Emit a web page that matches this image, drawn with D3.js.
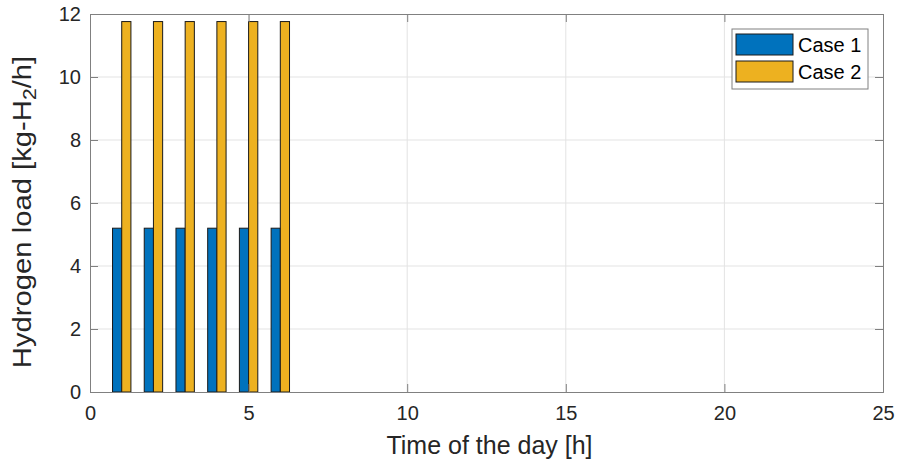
<!DOCTYPE html>
<html>
<head>
<meta charset="utf-8">
<script src="https://cdn.jsdelivr.net/npm/d3@7"></script>
<style>
  html, body { margin: 0; padding: 0; background: #fff; }
  svg { display: block; font-family: "Liberation Sans", Arial, sans-serif; }
</style>
</head>
<body>
<svg id="chart" width="898" height="463"></svg>
<script>
// Hourly hydrogen load for the two cases
const hours = [1, 2, 3, 4, 5, 6];
const case1 = [5.2, 5.2, 5.2, 5.2, 5.2, 5.2];
const case2 = [11.76, 11.76, 11.76, 11.76, 11.76, 11.76];
const seriesNames = ["Case 1", "Case 2"];
const seriesColors = ["#0072BD", "#EDB120"];
const xTicks = [0, 5, 10, 15, 20, 25];
const yTicks = [0, 2, 4, 6, 8, 10, 12];

const svg = d3.select("#chart");
const margin = { left: 90, right: 15, top: 14, bottom: 71 };
const W = 898, H = 463;
const x = d3.scaleLinear().domain([0, 25]).range([margin.left, W - margin.right]);
const y = d3.scaleLinear().domain([0, 12]).range([H - margin.bottom, margin.top]);

const axisColor = "#808080";
const gridColor = "#e3e3e3";
const textColor = "#262626";

// grid
svg.append("g").selectAll("line").data(xTicks.slice(1, -1)).join("line")
  .attr("x1", d => x(d)).attr("x2", d => x(d))
  .attr("y1", y(0)).attr("y2", y(12))
  .attr("stroke", gridColor).attr("stroke-width", 1);
svg.append("g").selectAll("line").data(yTicks.slice(1, -1)).join("line")
  .attr("x1", x(0)).attr("x2", x(25))
  .attr("y1", d => y(d)).attr("y2", d => y(d))
  .attr("stroke", gridColor).attr("stroke-width", 1);

// grouped bars
const series = [case1, case2];
const barW = 0.29; // in hours
const bars = svg.append("g");
series.forEach((vals, si) => {
  bars.selectAll(null).data(hours.map((h, i) => ({ h, v: vals[i] }))).join("rect")
    .attr("x", d => x(d.h + (si - 1) * barW))
    .attr("width", x(barW) - x(0))
    .attr("y", d => y(d.v))
    .attr("height", d => y(0) - y(d.v))
    .attr("fill", seriesColors[si])
    .attr("stroke", "#1a1a1a")
    .attr("stroke-width", 1);
});

// axes (ticks inward, full box)
const tickLen = 8;
const xAxis = d3.axisBottom(x).tickValues(xTicks).tickSize(-tickLen).tickPadding(14).tickFormat(d3.format("d"));
const yAxis = d3.axisLeft(y).tickValues(yTicks).tickSize(-tickLen).tickPadding(9).tickFormat(d3.format("d"));
const gx = svg.append("g").attr("transform", `translate(0,${y(0)})`).call(xAxis);
const gy = svg.append("g").attr("transform", `translate(${x(0)},0)`).call(yAxis);
const gxTop = svg.append("g").attr("transform", `translate(0,${y(12)})`)
  .call(d3.axisTop(x).tickValues(xTicks).tickSize(-tickLen).tickFormat(""));
const gyRight = svg.append("g").attr("transform", `translate(${x(25)},0)`)
  .call(d3.axisRight(y).tickValues(yTicks).tickSize(-tickLen).tickFormat(""));
[gx, gy, gxTop, gyRight].forEach(g => {
  g.select(".domain").attr("stroke", axisColor);
  g.selectAll(".tick line").attr("stroke", axisColor);
  g.selectAll(".tick text").attr("fill", textColor).attr("font-size", 20)
    .attr("font-family", "'Liberation Sans', Arial, sans-serif");
});

// axis labels
svg.append("text")
  .attr("x", (x(0) + x(25)) / 2 + 3).attr("y", 454)
  .attr("text-anchor", "middle").attr("font-size", 25).attr("fill", textColor)
  .text("Time of the day [h]");

// y label, slightly elongated along its reading direction
const yl = svg.append("text")
  .attr("transform", `translate(31,212) rotate(-90) scale(1.17,1)`)
  .attr("text-anchor", "middle").attr("font-size", 25).attr("fill", textColor);
yl.append("tspan").text("Hydrogen load [kg-H");
yl.append("tspan").attr("baseline-shift", "-25%").attr("font-size", 18).text("2");
yl.append("tspan").text("/h]");

// legend
const lg = svg.append("g").attr("transform", "translate(732,29)");
lg.append("rect").attr("width", 136).attr("height", 60)
  .attr("fill", "#fff").attr("stroke", "#808080").attr("stroke-width", 1);
seriesNames.forEach((name, i) => {
  const row = lg.append("g").attr("transform", `translate(4,${5 + i * 27})`);
  row.append("rect").attr("width", 57).attr("height", 21)
    .attr("fill", seriesColors[i]).attr("stroke", "#1a1a1a");
  row.append("text").attr("x", 62).attr("y", 18)
    .attr("font-size", 20).attr("fill", "#000").text(name);
});
</script>
</body>
</html>
